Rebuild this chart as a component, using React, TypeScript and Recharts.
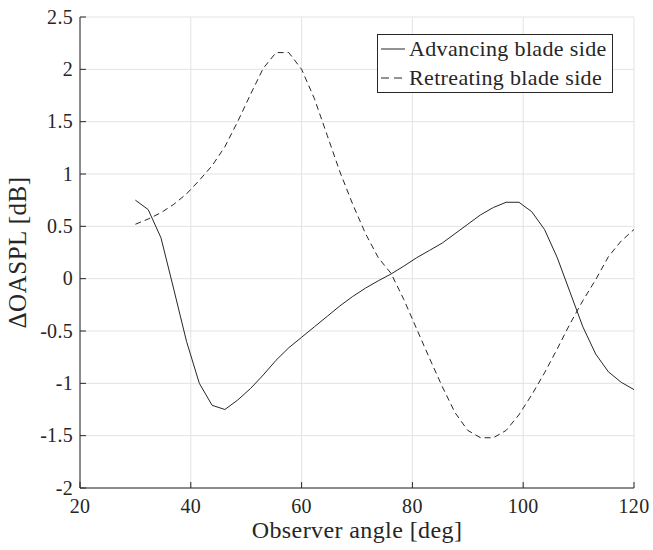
import React from "react";
import { LineChart, Line, XAxis, YAxis, CartesianGrid, Legend } from "recharts";

const angles = [30, 32.31, 34.62, 36.92, 39.23, 41.54, 43.85, 46.15, 48.46, 50.77, 53.08, 55.38, 57.69, 60, 62.31, 64.62, 66.92, 69.23, 71.54, 73.85, 76.15, 78.46, 80.77, 83.08, 85.38, 87.69, 90, 92.31, 94.62, 96.92, 99.23, 101.54, 103.85, 106.15, 108.46, 110.77, 113.08, 115.38, 117.69, 120];

const advancing = [0.75, 0.66, 0.39, -0.1, -0.6, -1.0, -1.21, -1.25, -1.16, -1.05, -0.92, -0.78, -0.66, -0.56, -0.46, -0.36, -0.26, -0.17, -0.09, -0.02, 0.045, 0.12, 0.2, 0.27, 0.34, 0.43, 0.52, 0.61, 0.68, 0.73, 0.73, 0.64, 0.47, 0.2, -0.13, -0.46, -0.72, -0.89, -0.99, -1.06];

const retreating = [0.52, 0.57, 0.63, 0.71, 0.81, 0.94, 1.08, 1.26, 1.5, 1.76, 2.01, 2.16, 2.16, 2.0, 1.72, 1.37, 1.02, 0.71, 0.43, 0.2, 0.05, -0.2, -0.48, -0.76, -1.03, -1.28, -1.45, -1.52, -1.52, -1.45, -1.3, -1.11, -0.9, -0.67, -0.43, -0.21, -0.01, 0.21, 0.36, 0.47];

const xTicks = [20, 40, 60, 80, 100, 120];
const yTicks = [-2, -1.5, -1, -0.5, 0, 0.5, 1, 1.5, 2, 2.5];

const seriesNames = ["Advancing blade side", "Retreating blade side"];

const data = angles.map((a, i) => ({ angle: a, advancing: advancing[i], retreating: retreating[i] }));

const INK = "#262626";
const FONT = "'Liberation Serif'";
const TICK = 6;
const tickTextStyle = { fontFamily: FONT, fontSize: 20, letterSpacing: 0.3 };

const BottomTick = (props: any) => {
  const { x, y, payload } = props;
  return (
    <g>
      <line x1={x} y1={y} x2={x} y2={y - TICK} stroke={INK} strokeWidth={1} />
      <text x={x} y={y + 25} textAnchor="middle" fill={INK} style={tickTextStyle}>
        {payload.value}
      </text>
    </g>
  );
};

const TopTick = (props: any) => {
  const { x, y } = props;
  return <line x1={x} y1={y} x2={x} y2={y + TICK} stroke={INK} strokeWidth={1} />;
};

const LeftTick = (props: any) => {
  const { x, y, payload } = props;
  return (
    <g>
      <line x1={x} y1={y} x2={x + TICK} y2={y} stroke={INK} strokeWidth={1} />
      <text x={x - 7} y={y + 6.5} textAnchor="end" fill={INK} style={tickTextStyle}>
        {String(payload.value)}
      </text>
    </g>
  );
};

const RightTick = (props: any) => {
  const { x, y } = props;
  return <line x1={x} y1={y} x2={x - TICK} y2={y} stroke={INK} strokeWidth={1} />;
};

const LegendBox = () => (
  <div
    style={{
      width: 236,
      height: 59,
      boxSizing: "border-box",
      border: `1px solid ${INK}`,
      background: "#fff",
      fontFamily: FONT,
      fontSize: 22,
      letterSpacing: 0.35,
      color: INK,
    }}
  >
    {seriesNames.map((name, i) => (
      <div key={name} style={{ display: "flex", alignItems: "center", height: 28.5 }}>
        <svg width={31} height={10} style={{ flex: "none" }}>
          <line
            x1={3}
            y1={5}
            x2={27}
            y2={5}
            stroke={INK}
            strokeWidth={1}
            strokeDasharray={i === 1 ? "8 5" : undefined}
          />
        </svg>
        <span style={{ whiteSpace: "nowrap", lineHeight: "28px" }}>{name}</span>
      </div>
    ))}
  </div>
);

export default function App() {
  return (
    <div style={{ position: "absolute", left: 0, top: 0, width: 653, height: 550, background: "#fff", fontFamily: FONT }}>
      <LineChart width={653} height={550} data={data} margin={{ top: 17, right: 19, left: 0, bottom: 0 }}>
        <CartesianGrid stroke="#e3e3e3" strokeWidth={1} />
        <XAxis
          dataKey="angle"
          type="number"
          domain={[20, 120]}
          ticks={xTicks}
          allowDataOverflow
          height={62}
          tickSize={0}
          tickMargin={0}
          tick={BottomTick}
          axisLine={{ stroke: INK }}
          label={{ value: "Observer angle [deg]", position: "insideBottom", offset: 12, fill: INK, fontFamily: FONT, fontSize: 24, letterSpacing: 0.4 }}
        />
        <XAxis
          xAxisId="top"
          orientation="top"
          type="number"
          domain={[20, 120]}
          ticks={xTicks}
          allowDataOverflow
          height={0}
          tickSize={0}
          tickMargin={0}
          tick={TopTick}
          axisLine={{ stroke: INK }}
        />
        <YAxis
          type="number"
          domain={[-2, 2.5]}
          ticks={yTicks}
          allowDataOverflow
          width={80}
          tickSize={0}
          tickMargin={0}
          tick={LeftTick}
          axisLine={{ stroke: INK }}
          label={{ value: "ΔOASPL [dB]", angle: -90, position: "insideLeft", offset: 17, fill: INK, fontFamily: FONT, fontSize: 25, letterSpacing: 0.5, style: { textAnchor: "middle" } }}
        />
        <YAxis
          yAxisId="right"
          orientation="right"
          type="number"
          domain={[-2, 2.5]}
          ticks={yTicks}
          allowDataOverflow
          width={0}
          tickSize={0}
          tickMargin={0}
          tick={RightTick}
          axisLine={{ stroke: INK }}
        />
        <Legend
          layout="vertical"
          align="center"
          verticalAlign="middle"
          content={LegendBox}
          wrapperStyle={{ left: 377, top: 34, width: 236, height: 59 }}
        />
        <Line
          dataKey="advancing"
          name={seriesNames[0]}
          type="linear"
          stroke={INK}
          strokeWidth={1}
          dot={false}
          activeDot={false}
          isAnimationActive={false}
        />
        <Line
          dataKey="retreating"
          name={seriesNames[1]}
          type="linear"
          stroke={INK}
          strokeWidth={1}
          strokeDasharray="6 4"
          dot={false}
          activeDot={false}
          isAnimationActive={false}
        />
      </LineChart>
    </div>
  );
}
